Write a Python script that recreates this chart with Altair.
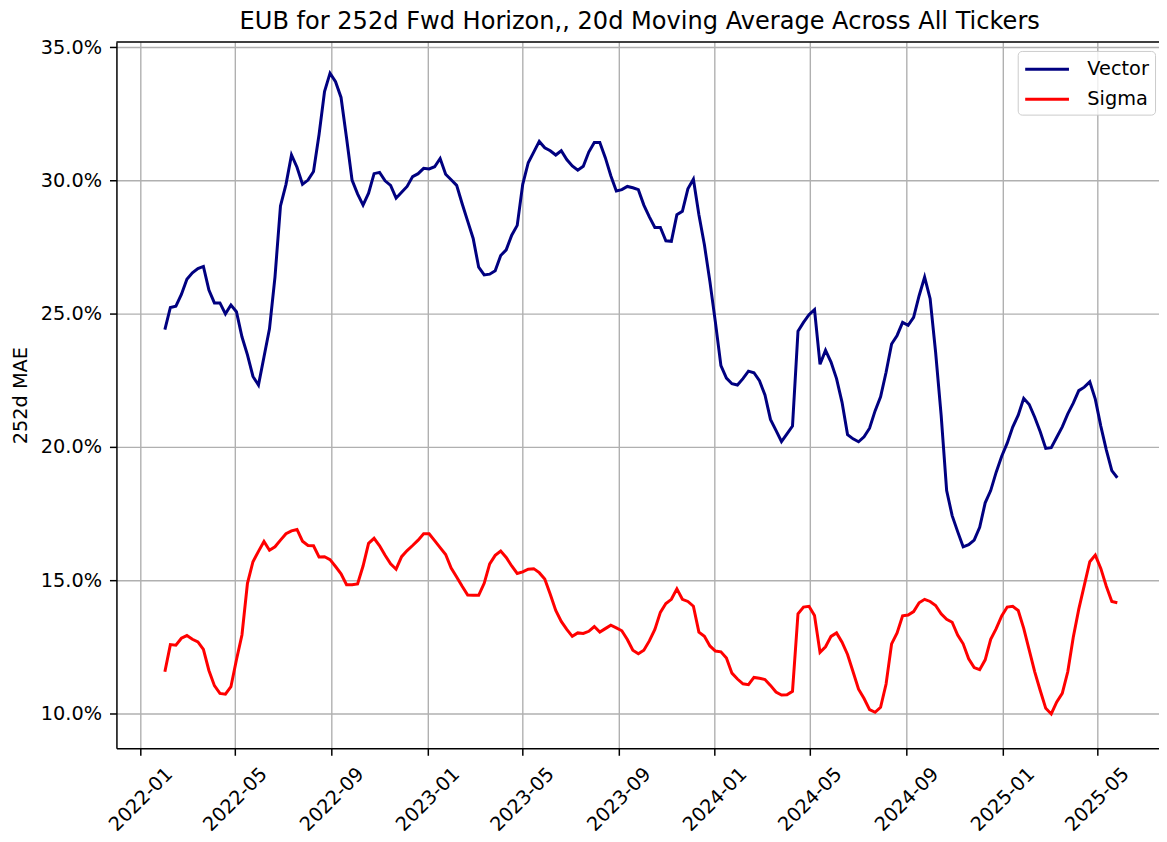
import altair as alt
import pandas as pd

# Weekly samples (percent), first sample 2022-02-01
start_date = "2022-02-01"

vector = [
    24.40, 25.23, 25.28, 25.72, 26.29, 26.53, 26.69, 26.77, 25.88, 25.40,
    25.40, 24.99, 25.32, 25.07, 24.13, 23.45, 22.64, 22.32, 23.37, 24.43,
    26.37, 29.04, 29.85, 30.95, 30.49, 29.85, 30.01, 30.33, 31.71, 33.33,
    34.02, 33.70, 33.11, 31.59, 30.01, 29.49, 29.07, 29.52, 30.25, 30.30,
    29.98,
    29.81, 29.33, 29.55, 29.77, 30.14, 30.25, 30.45, 30.43, 30.51, 30.82,
    30.23, 30.02, 29.81, 29.12, 28.47, 27.82, 26.74, 26.45, 26.48, 26.61,
    27.18, 27.39, 27.94, 28.31, 29.85, 30.66, 31.06, 31.46, 31.22, 31.11,
    30.95, 31.11, 30.78, 30.54, 30.38, 30.53, 31.06, 31.42, 31.42, 30.85,
    30.17, 29.60, 29.65, 29.77, 29.72,
    29.65, 29.07, 28.63, 28.23, 28.23, 27.73, 27.71, 28.71, 28.84, 29.68,
    30.04, 28.71, 27.58, 26.20, 24.67, 23.05, 22.58, 22.37, 22.32, 22.56,
    22.84, 22.78, 22.48, 21.95, 21.03, 20.62, 20.20, 20.49, 20.78, 24.34,
    24.67, 24.96, 25.15, 23.10, 23.62, 23.18, 22.56, 21.67, 20.46, 20.30,
    20.19, 20.38, 20.70, 21.35, 21.88, 22.80,
    23.86, 24.18, 24.67, 24.56, 24.86, 25.67, 26.37, 25.56, 23.54, 21.19,
    18.36, 17.42, 16.82, 16.25, 16.33, 16.50, 16.98, 17.90, 18.36, 19.05,
    19.65, 20.14, 20.74, 21.19, 21.82, 21.59, 21.11, 20.57, 19.94, 19.97,
    20.36, 20.75, 21.24, 21.64, 22.11, 22.24, 22.44, 21.79, 20.78, 19.89,
    19.11, 18.84,
]

sigma = [
    11.56, 12.58, 12.56, 12.82, 12.92, 12.78, 12.68, 12.40, 11.61, 11.04,
    10.75, 10.72, 11.00, 12.01, 12.94, 14.88, 15.69, 16.08, 16.45, 16.12,
    16.25, 16.50, 16.74, 16.85, 16.90, 16.46, 16.30, 16.29, 15.87, 15.88,
    15.77, 15.51, 15.24, 14.83, 14.83, 14.86, 15.53, 16.38, 16.57, 16.29,
    15.93,
    15.61, 15.41, 15.88, 16.11, 16.30, 16.50, 16.74, 16.74, 16.48, 16.22,
    15.96, 15.45, 15.12, 14.77, 14.44, 14.43, 14.43, 14.88, 15.61, 15.93,
    16.09, 15.85, 15.53, 15.25, 15.31, 15.41, 15.43, 15.28, 15.04, 14.47,
    13.86, 13.45, 13.15, 12.89, 13.02, 13.00, 13.08, 13.26, 13.05, 13.18,
    13.31, 13.21, 13.10, 12.77, 12.37,
    12.24, 12.37, 12.72, 13.15, 13.79, 14.12, 14.28, 14.67, 14.28, 14.20,
    14.02, 13.05, 12.89, 12.53, 12.34, 12.31, 12.08, 11.51, 11.29, 11.11,
    11.08, 11.35, 11.32, 11.27, 11.05, 10.80, 10.69, 10.70, 10.83, 13.74,
    13.99, 14.02, 13.67, 12.29, 12.50, 12.89, 13.02, 12.67, 12.21, 11.56,
    10.91, 10.56, 10.14, 10.04, 10.23, 11.10,
    12.61, 13.02, 13.66, 13.69, 13.82, 14.15, 14.28, 14.20, 14.05, 13.74,
    13.53, 13.42, 12.94, 12.61, 12.05, 11.72, 11.64, 12.01, 12.78, 13.18,
    13.66, 13.99, 14.02, 13.86, 13.19, 12.37, 11.56, 10.86, 10.19, 9.98,
    10.43, 10.75, 11.56, 12.86, 13.91, 14.80, 15.69, 15.94, 15.44, 14.77,
    14.20, 14.15,
]

series_names = ["Vector", "Sigma"]
series_colors = ["#000080", "#ff0000"]
x_tick_labels = ["2022-01", "2022-05", "2022-09", "2023-01", "2023-05", "2023-09",
                 "2024-01", "2024-05", "2024-09", "2025-01", "2025-05"]
y_ticks = [0.10, 0.15, 0.20, 0.25, 0.30, 0.35]
title_text = "EUB for 252d Fwd Horizon,, 20d Moving Average Across All Tickers"

dates = pd.date_range(start_date, periods=len(vector), freq="7D").strftime("%Y-%m-%d").tolist()
df = pd.DataFrame({
    "date": dates + dates,
    "value": [v / 100 for v in vector] + [s / 100 for s in sigma],
    "series": ["Vector"] * len(vector) + ["Sigma"] * len(sigma),
})

W, H = 1048, 710
FONT = "DejaVu Sans"

x_ticks = [alt.DateTime(year=int(t[:4]), month=int(t[5:]), date=1, utc=True) for t in x_tick_labels]

lines = alt.Chart(df).mark_line(strokeWidth=3).encode(
    x=alt.X(
        "date:T",
        title=None,
        scale=alt.Scale(
            type="utc",
            domain=[alt.DateTime(year=2021, month=12, date=1, hours=10, utc=True),
                    alt.DateTime(year=2025, month=7, date=19, utc=True)],
        ),
        axis=alt.Axis(
            values=x_ticks, format="%Y-%m", labelAngle=315, labelAlign="center",
            labelBaseline="middle", labelPadding=44, tickSize=7,
        ),
    ),
    y=alt.Y(
        "value:Q",
        scale=alt.Scale(domain=[0.0869, 0.3519], nice=False, zero=False),
        axis=alt.Axis(
            values=y_ticks, format=".1%", title="252d MAE", tickSize=7, labelPadding=8,
            titleAngle=270, titleX=-90, titleY=H / 2, titleAlign="center",
            titleBaseline="alphabetic",
        ),
    ),
    color=alt.Color(
        "series:N",
        scale=alt.Scale(domain=series_names, range=series_colors),
        legend=alt.Legend(
            title=None, orient="none", legendX=906, legendY=9,
            symbolType="M-1,0H3", symbolSize=484, symbolStrokeWidth=3,
            labelFontSize=19.4, labelFont=FONT, labelColor="black", labelOffset=39,
            padding=6, rowPadding=8, strokeColor="#cccccc",
            fillColor="rgba(255,255,255,0.8)", cornerRadius=4,
        ),
    ),
)

top_spine = alt.Chart(pd.DataFrame({"k": [0]})).mark_rule(color="black", strokeWidth=1.5).encode(
    x=alt.value(0), x2=alt.value(W), y=alt.value(0)
)

chart = alt.layer(lines, top_spine).properties(
    width=W,
    height=H,
    title=alt.TitleParams(title_text, fontSize=24.2, font=FONT, fontWeight="normal",
                          anchor="middle", offset=3, dx=2, color="black"),
    autosize=alt.AutoSizeParams(type="none"),
    padding={"left": 109, "top": 32, "right": 0, "bottom": 90},
).configure_view(stroke=None).configure_axis(
    labelFont=FONT, labelFontSize=19.4, labelColor="black",
    titleFont=FONT, titleFontSize=19.4, titleColor="black", titleFontWeight="normal",
    domainColor="black", domainWidth=1.5, tickColor="black", tickWidth=1.5,
    gridColor="#b0b0b0", gridWidth=1.4, grid=True,
)

chart.save("out.html", embed_options={"renderer": "svg", "actions": False})
